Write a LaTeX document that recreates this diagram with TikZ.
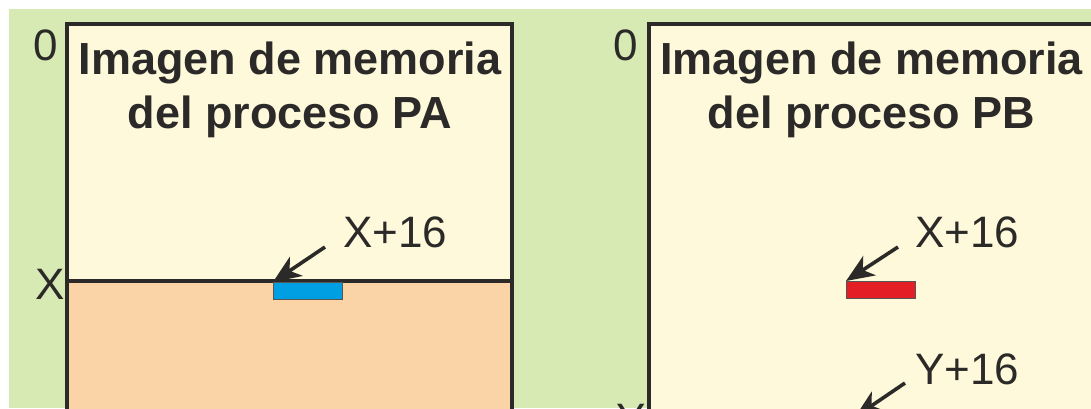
\documentclass[tikz,border=0pt]{standalone}
\usepackage{fontspec}
\setmainfont{Liberation Sans}
\usetikzlibrary{arrows.meta}
\definecolor{bggreen}{HTML}{D8EAB4}
\definecolor{cream}{HTML}{FEF9DA}
\definecolor{peach}{HTML}{FAD4A6}
\definecolor{cellblue}{HTML}{009FE3}
\definecolor{cellred}{HTML}{E31E25}
\definecolor{ink}{HTML}{2B2A29}
\tikzset{
  membox/.style={draw=ink, line width=3.2pt},
  titletext/.style={font=\fontsize{45}{54}\selectfont\bfseries, text=ink, inner sep=0pt, anchor=base},
  addrlabel/.style={font=\fontsize{44}{52}\selectfont, text=ink, inner sep=0pt},
  cell/.style={draw=ink!80, line width=0.8pt, minimum width=69pt, minimum height=17pt, inner sep=0pt, anchor=north west},
  pointer/.style={draw=ink, line width=3.6pt, -{Stealth[length=28pt,width=23pt,inset=8pt]}}
}
\begin{document}
\begin{tikzpicture}[x=1pt,y=-1pt]
\useasboundingbox (0,0) rectangle (1091,408);
\clip (0,0) rectangle (1091,408);
\fill[white] (0,0) rectangle (1091,408);
\fill[bggreen] (9,9) rectangle (1091,408);
% left memory image
\fill[cream] (67,24) rectangle (512,281);
\fill[peach] (67,281) rectangle (512,450);
\draw[membox] (67,450) -- (67,24) -- (512,24) -- (512,450);
\draw[membox] (67,281) -- (512,281);
% right memory image
\fill[cream] (649,24) rectangle (1094,450);
\draw[membox] (649,450) -- (649,24) -- (1094,24) -- (1094,450);
% titles
\node[titletext] (tA1) at (290,74) {Imagen de memoria};
\node[titletext] (tA2) at (290,128) {del proceso PA};
\node[titletext] (tB1) at (871.5,74) {Imagen de memoria};
\node[titletext] (tB2) at (871.5,128) {del proceso PB};
% address labels
\node[addrlabel, anchor=base east] (zA) at (58,60) {0};
\node[addrlabel, anchor=base east] (zB) at (638,60) {0};
\node[addrlabel, anchor=base east] (xA) at (65,299) {X};
\node[addrlabel, anchor=base east] (yB) at (646,434) {Y};
% cells
\node[cell, fill=cellblue] (cA) at (273,282) {};
\node[cell, fill=cellred] (cB) at (846,281) {};
% pointer labels
\node[addrlabel, anchor=base west] (lA) at (343,247) {X+16};
\node[addrlabel, anchor=base west] (lB) at (915,247) {X+16};
\node[addrlabel, anchor=base west] (lY) at (915,384) {Y+16};
\coordinate (sA) at (325,247);
\coordinate (sB) at (898,247);
\coordinate (sY) at (905,383);
\coordinate (eY) at (855,417);
\draw[pointer] (sA) -- (cA.north west);
\draw[pointer] (sB) -- (cB.north west);
\draw[pointer] (sY) -- (eY);
\end{tikzpicture}
\end{document}
